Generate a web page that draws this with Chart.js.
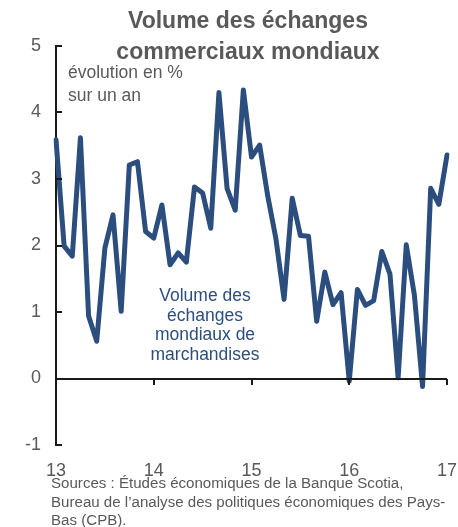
<!DOCTYPE html>
<html lang="fr">
<head>
<meta charset="utf-8">
<script src="https://cdn.jsdelivr.net/npm/chart.js@4/dist/chart.umd.min.js"></script>
<style>
  html, body { margin: 0; padding: 0; background: #fff; }
  #cadre { position: relative; width: 458px; height: 527px; overflow: hidden; font-family: "Liberation Sans", Arial, sans-serif; }
  #graphique { position: absolute; left: 0; top: 0; }
  .txt { position: absolute; color: #595959; white-space: nowrap; }
  #titre { left: 0; width: 496px; top: 5px; text-align: center; font-weight: bold; font-size: 23px; line-height: 31px; }
  #unite { left: 68px; top: 61px; font-size: 17.5px; line-height: 23px; }
  #serie { left: 130px; width: 150px; top: 286px; text-align: center; font-size: 17.5px; line-height: 19.5px; color: #2c4e7e; }
  #sources { left: 51px; top: 474px; font-size: 15.1px; line-height: 18.7px; }
</style>
</head>
<body>
<div id="cadre">
  <canvas id="graphique" width="458" height="527"></canvas>
  <div class="txt" id="titre">Volume des échanges<br>commerciaux mondiaux</div>
  <div class="txt" id="unite">évolution en %<br>sur un an</div>
  <div class="txt" id="serie">Volume des<br>échanges<br>mondiaux de<br>marchandises</div>
  <div class="txt" id="sources">Sources : Études économiques de la Banque Scotia,<br>Bureau de l’analyse des politiques économiques des Pays-<br>Bas (CPB).</div>
</div>
<script>
// annees affichees sous l'axe (13 = 2013)
var annees = ['13', '14', '15', '16', '17'];
var moisNoms = ['janv', 'févr', 'mars', 'avr', 'mai', 'juin', 'juil', 'août', 'sept', 'oct', 'nov', 'déc'];

// Volume des echanges mondiaux de marchandises, evolution en % sur un an (janv. 2013 a janv. 2017)
var volume2013 = [3.59, 1.99, 1.84, 3.62, 0.94, 0.56, 1.96, 2.46, 1.01, 3.21, 3.26, 2.21];
var volume2014 = [2.11, 2.61, 1.71, 1.89, 1.75, 2.88, 2.79, 2.26, 4.30, 2.86, 2.53, 4.34];
var volume2015 = [3.33, 3.51, 2.74, 2.10, 1.19, 2.71, 2.15, 2.14, 0.86, 1.60, 1.11, 1.29];
var volume2016 = [-0.04, 1.34, 1.10, 1.17, 1.91, 1.57, 0.01, 2.01, 1.25, -0.12, 2.86, 2.62];
var volume2017 = [3.36];

var yTicks = [-1, 0, 1, 2, 3, 4, 5];

var volume = volume2013.concat(volume2014, volume2015, volume2016, volume2017);

// une categorie par mois
var categories = [];
for (var a = 0; a < annees.length; a++) {
	for (var m = 0; m < 12; m++) {
		if (categories.length < volume.length) {
			categories.push(moisNoms[m] + ' ' + annees[a]);
		}
	}
}

var bleu = '#2c4e7e';
var noir = '#1a1a1a';

// petites graduations vers l'interieur + ligne du zero
var axeZero = {
	id: 'axeZero',
	afterDatasetsDraw: function(chart) {
		var c = chart.ctx;
		var x = chart.scales.x, y = chart.scales.y;
		var area = chart.chartArea;
		c.save();
		c.strokeStyle = noir;
		c.lineWidth = 2;
		var y0 = Math.round(y.getPixelForValue(0));
		c.beginPath();
		c.moveTo(area.left, y0);
		c.lineTo(area.right, y0);
		for (var i = 12; i < categories.length; i += 12) {
			var px = Math.round(x.getPixelForValue(i));
			c.moveTo(px, y0);
			c.lineTo(px, y0 + 6);
		}
		yTicks.forEach(function(v) {
			var py = Math.round(y.getPixelForValue(v));
			c.moveTo(area.left, py);
			c.lineTo(area.left + 6, py);
		});
		c.stroke();
		c.restore();
	}
};

var ctx = document.getElementById('graphique');
var chart = new Chart(ctx, {
	type: 'line',
	data: {
		labels: categories,
		datasets: [{
			label: 'Volume des échanges mondiaux de marchandises',
			data: volume,
			borderColor: bleu,
			borderWidth: 5,
			borderJoinStyle: 'round',
			borderCapStyle: 'round',
			pointRadius: 0,
			tension: 0,
			fill: false
		}]
	},
	options: {
		responsive: false,
		animation: false,
		layout: { padding: { top: 46, right: 11, left: 0, bottom: 0 } },
		plugins: {
			legend: { display: false },
			tooltip: { enabled: false },
			title: { display: false }
		},
		scales: {
			x: {
				type: 'category',
				offset: false,
				grid: { display: false },
				border: { display: false },
				ticks: {
					autoSkip: false,
					maxRotation: 0,
					padding: 7,
					color: '#595959',
					font: { family: 'Liberation Sans', size: 18 },
					callback: function(val, index) {
						return index % 12 === 0 ? annees[index / 12] : '';
					}
				},
				afterFit: function(scale) {
					scale.height = 82;
					scale.paddingLeft = 0;
					scale.paddingRight = 0;
				}
			},
			y: {
				min: -1,
				max: 5,
				afterBuildTicks: function(scale) {
					scale.ticks = yTicks.map(function(v) { return { value: v }; });
				},
				grid: { drawOnChartArea: false, drawTicks: false },
				border: { display: true, color: noir, width: 2 },
				ticks: {
					padding: 15,
					color: '#595959',
					font: { family: 'Liberation Sans', size: 18 }
				},
				afterFit: function(scale) { scale.width = 56; }
			}
		}
	},
	plugins: [axeZero]
});
</script>
</body>
</html>
